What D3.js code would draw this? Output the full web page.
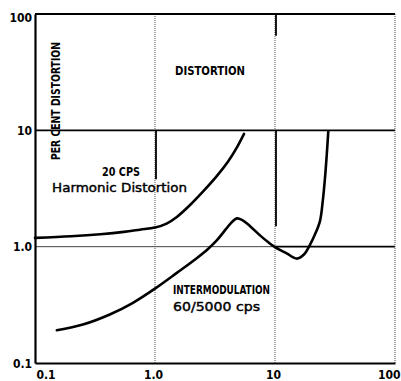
<!DOCTYPE html>
<meta charset="utf-8">
<style>
    body { margin: 0; background: #fff; }
    svg { display: block; }
    .tick text { font-family: "DejaVu Sans Condensed", "DejaVu Sans", sans-serif; font-weight: bold; font-size: 12px; fill: #000; }
    .grid { stroke: #555; stroke-width: 1; }
    .curve { fill: none; stroke: #000; stroke-width: 2.6; stroke-linecap: round; }
    .caps { font-family: "DejaVu Sans Condensed", sans-serif; font-weight: bold; font-size: 12px; }
    .round { font-family: "DejaVu Sans", sans-serif; font-size: 12px; font-weight: normal; stroke: #000; stroke-width: 0.4; }
</style>
<body>
<script src="https://cdn.jsdelivr.net/npm/d3@7"></script>
<script>

    var tickValues = [0.1, 1, 10, 100];
    var xTickLabels = ["0.1", "1.0", "10", "100"];
    var yTickLabels = ["0.1", "1.0", "10", "100"];

    // 20 cps harmonic distortion
    var harmonicX = [0.1, 0.2, 0.35, 0.55, 0.75, 1.0, 1.25, 1.52, 1.96, 2.53, 3.27, 4.08, 4.79, 5.52];
    var harmonicY = [1.19, 1.23, 1.28, 1.34, 1.40, 1.46, 1.58, 1.80, 2.28, 3.0, 4.04, 5.43, 7.07, 9.33];

    // intermodulation 60/5000 cps
    var intermodX = [0.152, 0.251, 0.42, 0.655, 1.02, 1.52, 2.24, 2.75, 3.27, 3.91, 4.4, 4.8, 5.3, 6.2, 7.5, 8.8, 10, 12.5, 15.2, 17.5, 19.6, 21.5, 23.7, 25, 26.1, 27, 27.8];
    var intermodY = [0.191, 0.214, 0.261, 0.329, 0.442, 0.595, 0.80, 0.95, 1.13, 1.42, 1.64, 1.75, 1.70, 1.50, 1.25, 1.09, 0.99, 0.875, 0.79, 0.86, 1.04, 1.27, 1.66, 2.46, 3.9, 6.2, 9.8];

    // heavier pen strokes over the grid (x, y from, y to)
    var heavyX = [10, 10, 1];
    var heavyFrom = [100, 10, 10];
    var heavyTo = [65, 1.5, 3.8];

    var width = 401, height = 381;
    var margin = {top: 14, right: 395, bottom: 363, left: 35};

    var x = d3.scaleLog().domain([0.1, 100]).range([margin.left, margin.right]);
    var y = d3.scaleLog().domain([0.1, 100]).range([margin.bottom, margin.top]);

    var svg = d3.select("body").append("svg")
            .attr("width", width)
            .attr("height", height);

    // grid
    svg.selectAll("line.vgrid")
            .data([1, 10])
        .enter().append("line")
            .attr("class", "grid")
            .attr("x1", function(d) { return x(d); })
            .attr("x2", function(d) { return x(d); })
            .attr("y1", margin.top)
            .attr("y2", margin.bottom)
            .style("stroke-dasharray", "1,1");

    svg.append("line")
            .attr("x1", margin.left).attr("x2", margin.right)
            .attr("y1", y(10)).attr("y2", y(10))
            .style("stroke", "#000").style("stroke-width", 1.8);

    svg.append("line")
            .attr("x1", margin.left).attr("x2", x(10))
            .attr("y1", y(1)).attr("y2", y(1))
            .style("stroke", "#444").style("stroke-width", 1);
    svg.append("line")
            .attr("x1", x(10)).attr("x2", margin.right)
            .attr("y1", y(1)).attr("y2", y(1))
            .style("stroke", "#000").style("stroke-width", 1.6);

    svg.selectAll("line.heavy")
            .data(heavyX)
        .enter().append("line")
            .attr("x1", function(d) { return x(d) + 1; })
            .attr("x2", function(d) { return x(d) + 1; })
            .attr("y1", function(d, i) { return y(heavyFrom[i]); })
            .attr("y2", function(d, i) { return y(heavyTo[i]); })
            .style("stroke", "#000").style("stroke-width", 1.8);

    // frame
    svg.append("line")
            .attr("x1", margin.right).attr("x2", margin.right)
            .attr("y1", margin.top).attr("y2", margin.bottom)
            .style("stroke", "#444").style("stroke-width", 1).style("stroke-dasharray", "1,1");
    svg.append("line")
            .attr("x1", margin.left).attr("x2", margin.right)
            .attr("y1", margin.top).attr("y2", margin.top)
            .style("stroke", "#000").style("stroke-width", 1.8);

    var xAxis = d3.axisBottom(x)
            .tickValues(tickValues)
            .tickSize(0)
            .tickPadding(7)
            .tickFormat(function(d, i) { return xTickLabels[i]; });

    var yAxis = d3.axisLeft(y)
            .tickValues(tickValues)
            .tickSize(0)
            .tickPadding(3)
            .tickFormat(function(d, i) { return yTickLabels[i]; });

    var gx = svg.append("g")
            .attr("transform", "translate(0," + margin.bottom + ")")
            .call(xAxis);
    gx.select(".domain").style("stroke", "#000").style("stroke-width", 2.2);
    gx.selectAll(".tick text")
            .attr("text-anchor", function(d, i) { return i === 0 ? "start" : (i === 3 ? "end" : "middle"); })
            .attr("dx", function(d, i) { return i === 3 ? 5 : (i === 0 ? 1 : -2); });

    var gy = svg.append("g")
            .attr("transform", "translate(" + margin.left + ",0)")
            .call(yAxis);
    gy.select(".domain").style("stroke", "#000").style("stroke-width", 2.2);
    gy.selectAll(".tick text")
            .attr("dy", function(d, i) { return i === 3 ? "0.65em" : "0.35em"; });

    // curves
    var line = d3.line()
            .x(function(d) { return x(d[0]); })
            .y(function(d) { return y(d[1]); })
            .curve(d3.curveCatmullRom.alpha(0.5));

    svg.append("path")
            .attr("class", "curve")
            .attr("d", line(d3.zip(harmonicX, harmonicY)));

    svg.append("path")
            .attr("class", "curve")
            .attr("d", line(d3.zip(intermodX, intermodY)));

    // labels
    svg.append("text")
            .attr("class", "caps")
            .attr("transform", "translate(60,101) rotate(-90)")
            .attr("text-anchor", "middle")
            .attr("textLength", 118)
            .attr("lengthAdjust", "spacingAndGlyphs")
            .text("PER CENT DISTORTION");

    svg.append("text")
            .attr("class", "caps")
            .attr("x", 175).attr("y", 75)
            .attr("textLength", 70)
            .attr("lengthAdjust", "spacingAndGlyphs")
            .text("DISTORTION");

    svg.append("text")
            .attr("class", "caps")
            .attr("x", 102).attr("y", 176)
            .attr("textLength", 38)
            .attr("lengthAdjust", "spacingAndGlyphs")
            .text("20 CPS");

    svg.append("text")
            .attr("class", "round")
            .attr("x", 52).attr("y", 192)
            .attr("textLength", 135)
            .attr("lengthAdjust", "spacingAndGlyphs")
            .text("Harmonic Distortion");

    svg.append("text")
            .attr("class", "caps")
            .attr("x", 173).attr("y", 294)
            .attr("textLength", 97)
            .attr("lengthAdjust", "spacingAndGlyphs")
            .text("INTERMODULATION");

    svg.append("text")
            .attr("class", "round")
            .attr("x", 173).attr("y", 311)
            .attr("textLength", 87)
            .attr("lengthAdjust", "spacingAndGlyphs")
            .text("60/5000 cps");

</script>
